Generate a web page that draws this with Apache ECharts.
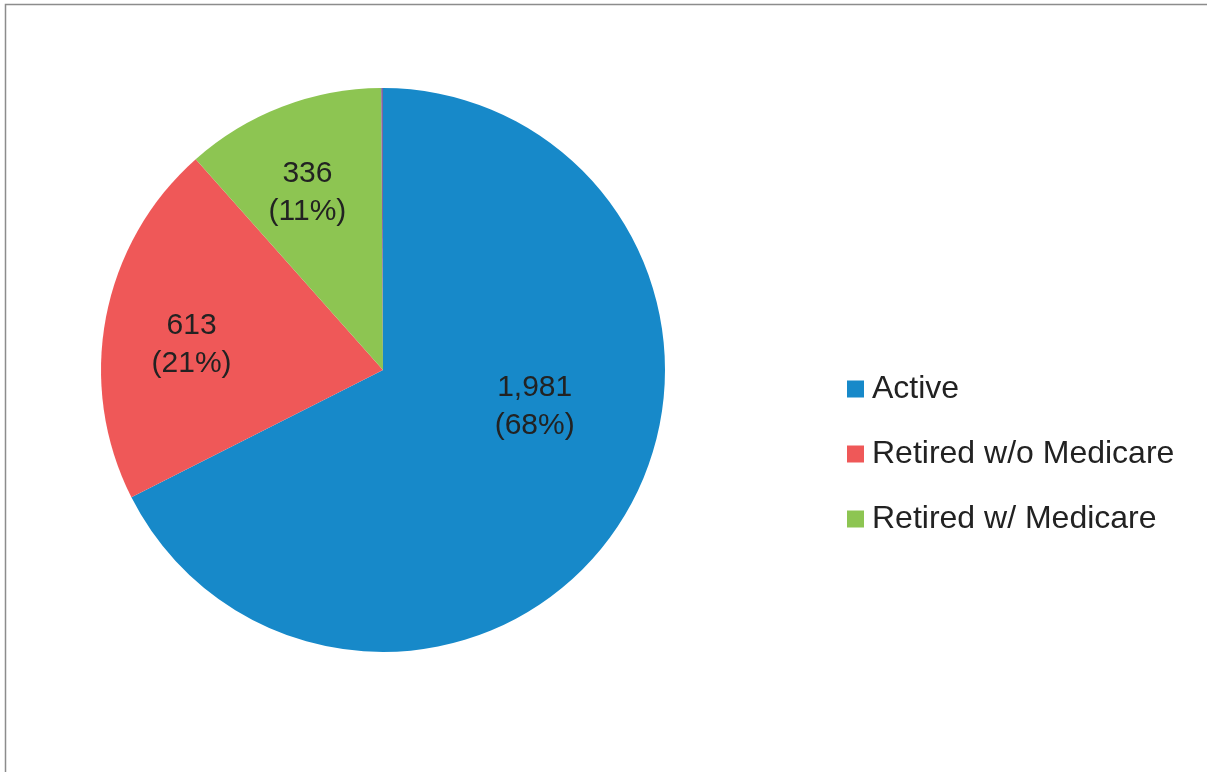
<!DOCTYPE html>
<html>
<head>
<meta charset="utf-8">
<script src="https://cdn.jsdelivr.net/npm/echarts@6/dist/echarts.min.js"></script>
<style>
  html, body { margin: 0; padding: 0; background: #ffffff; }
  #chart { width: 1207px; height: 772px; }
</style>
</head>
<body>
<div id="chart"></div>
<script>
// Enrollment by member group
const categories = ['Active', 'Retired w/o Medicare', 'Retired w/ Medicare', 'Other'];
const values = [1981, 613, 336, 3];
const colors = ['#1789c9', '#ef5858', '#8dc552', '#8064a2'];
const legendNames = ['Active', 'Retired w/o Medicare', 'Retired w/ Medicare'];

// label nudges relative to the slice's inside anchor
const labelOffsets = [[29, -39], [-50, 2], [-24, -43], [0, 0]];

const FONT = '"Liberation Sans", Arial, Helvetica, sans-serif';

const chart = echarts.init(document.getElementById('chart'), null, { renderer: 'canvas' });

const data = categories.map((name, i) => ({
  name,
  value: values[i],
  itemStyle: { color: colors[i] },
  label: { show: i < 3, offset: labelOffsets[i] }
}));

chart.setOption({
  backgroundColor: '#ffffff',
  animation: false,
  graphic: [{
    type: 'rect',
    shape: { x: 5.5, y: 4.5, width: 1400, height: 1000 },
    style: { fill: 'none', stroke: '#8c8c8c', lineWidth: 1.5 },
    silent: true
  }],
  legend: {
    data: legendNames,
    orient: 'vertical',
    left: 842,
    top: 368,
    itemWidth: 17,
    itemHeight: 17,
    itemGap: 33,
    icon: 'rect',
    textStyle: {
      fontFamily: FONT,
      fontSize: 32,
      color: '#222222',
      padding: [0, 0, 0, 3]
    }
  },
  series: [{
    type: 'pie',
    center: [383, 370],
    radius: [0, 282],
    startAngle: 90,
    clockwise: true,
    avoidLabelOverlap: false,
    itemStyle: { borderWidth: 0 },
    label: {
      position: 'inside',
      fontFamily: FONT,
      fontSize: 30,
      lineHeight: 38,
      color: '#222222',
      formatter: p => p.value.toLocaleString('en-US') + '\n(' + Math.round(p.percent) + '%)'
    },
    labelLine: { show: false },
    emphasis: { disabled: true },
    data
  }]
});
</script>
</body>
</html>
